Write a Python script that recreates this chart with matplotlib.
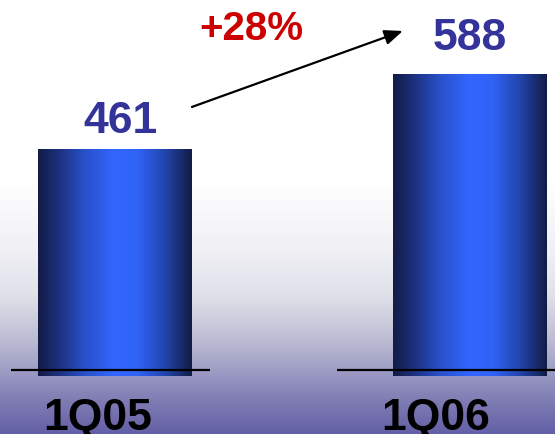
import numpy as np
import matplotlib
matplotlib.use("Agg")
import matplotlib.pyplot as plt
from matplotlib.colors import LinearSegmentedColormap

# ---- data ----
categories = ["1Q05", "1Q06"]
values = [461, 588]
growth_label = "+28%"

plt.rcParams['font.family'] = ['Liberation Sans', 'DejaVu Sans']

fig = plt.figure(figsize=(5.55, 4.35), dpi=100)
ax = fig.add_axes([0, 0, 1, 1])
base = 80
ax.set_xlim(-0.3244, 1.2412)
ax.set_ylim(-20, 716.6)
ax.axis('off')

# background vertical gradient (top white -> lavender bottom)
bg_stops = [
    (0.00, (1.0, 1.0, 1.0)),
    (0.42, (1.0, 1.0, 1.0)),
    (0.58, (240/255, 240/255, 245/255)),
    (0.68, (224/255, 226/255, 234/255)),
    (0.78, (190/255, 190/255, 212/255)),
    (0.85, (160/255, 160/255, 198/255)),
    (0.91, (132/255, 130/255, 182/255)),
    (1.00, (100/255, 96/255, 166/255)),
]
bg_cmap = LinearSegmentedColormap.from_list("bg", bg_stops)
grad = np.linspace(0, 1, 512).reshape(-1, 1)
ax.imshow(grad, cmap=bg_cmap, aspect='auto', extent=[0, 1, 0, 1],
          transform=ax.transAxes, origin='upper', zorder=0)

# bar horizontal gradient
bar_stops = [
    (0.00, (18/255, 28/255, 70/255)),
    (0.12, (28/255, 45/255, 120/255)),
    (0.30, (40/255, 80/255, 200/255)),
    (0.50, (50/255, 102/255, 255/255)),
    (0.65, (48/255, 98/255, 245/255)),
    (0.82, (35/255, 70/255, 175/255)),
    (1.00, (18/255, 28/255, 70/255)),
]
bar_cmap = LinearSegmentedColormap.from_list("bar", bar_stops)
hgrad = np.linspace(0, 1, 256).reshape(1, -1)

x = np.arange(len(categories))
width = 0.434
bars = ax.bar(x, np.array(values) - base, width=width, bottom=base,
              color='none', edgecolor='none', zorder=2)
for rect in bars:
    x0, y0 = rect.get_x(), rect.get_y()
    w, h = rect.get_width(), rect.get_height()
    ax.imshow(hgrad, cmap=bar_cmap, aspect='auto',
              extent=[x0, x0 + w, y0 - 2, y0 + h], zorder=2)

# baseline segments
seg = [(-0.293, 0.268), (-0.374, 0.241)]
for xi, (a, b) in zip(x, seg):
    ax.plot([xi + a, xi + b], [base + 8.5, base + 8.5], color='black', lw=1.6,
            zorder=3, solid_capstyle='butt')

# value labels
offsets = [50, 63]
xoffs = [0.015, 0.0]
for xi, v, off, xo in zip(x, values, offsets, xoffs):
    ax.text(xi + xo, v + off, str(v), ha='center', va='center',
            fontsize=32, fontweight='bold', color='#333399', zorder=4)

# category labels
xl_off = [-0.048, -0.094]
for xi, c, o in zip(x, categories, xl_off):
    ax.text(xi + o, 8, c, ha='center', va='center', fontsize=32,
            fontweight='bold', color='black', zorder=4)

# growth arrow and label
ax.annotate("", xy=(0.812, 662.5), xytext=(0.217, 533.8),
            arrowprops=dict(arrowstyle='-|>,head_length=1.1,head_width=0.45',
                            color='black', lw=1.6, shrinkA=0, shrinkB=0), zorder=4)
ax.text(0.384, 667, growth_label, ha='center', va='center', fontsize=29,
        fontweight='bold', color='#cc0000', zorder=4)

fig.savefig("out.png", dpi=100)
